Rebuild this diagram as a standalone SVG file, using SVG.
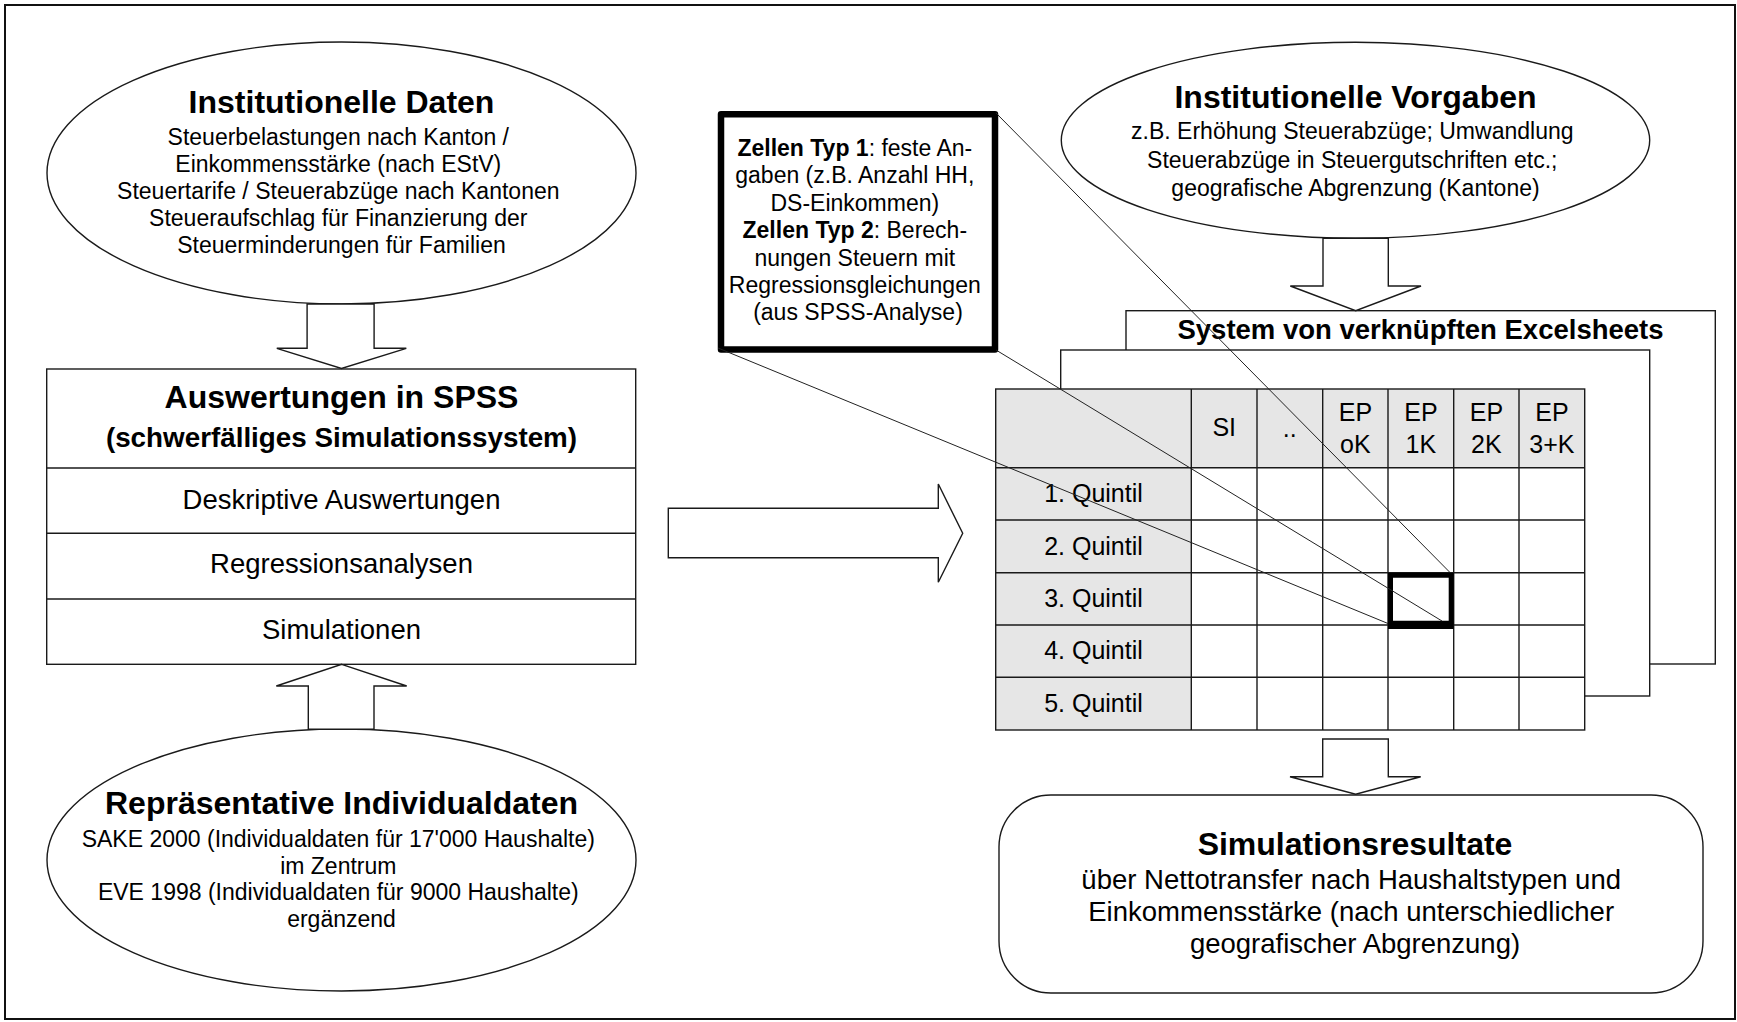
<svg xmlns="http://www.w3.org/2000/svg" width="1737" height="1022" viewBox="0 0 1737 1022">
<style>
text { font-family: "Liberation Sans", Arial, Helvetica, sans-serif; fill: #000; }
.c { text-anchor: middle; }
.b { font-weight: bold; }
.shape { fill: #fff; stroke: #1a1a1a; stroke-width: 1.4; }
.grid { fill: none; stroke: #1a1a1a; stroke-width: 1.4; }
.hd { fill: #e6e6e6; stroke: none; }
.thin { fill: none; stroke: #222; stroke-width: 1; }
.s23 { font-size: 23px; }
.s25 { font-size: 25px; }
.s27 { font-size: 27.5px; }
.s32 { font-size: 32px; }
</style>
<rect x="0" y="0" width="1737" height="1022" fill="#fff"/>
<rect id="frame" x="5" y="5" width="1730" height="1014" fill="none" stroke="#111" stroke-width="2"/>

<g id="institutionelle-daten">
  <ellipse class="shape" cx="341.5" cy="173" rx="294.5" ry="131"/>
  <text class="c b s32" x="341.5" y="113">Institutionelle Daten</text>
  <text class="c s23">
    <tspan x="341.5" y="145">Steuerbelastungen nach Kanton /</tspan>
    <tspan x="341.5" y="172">Einkommensstärke (nach EStV)</tspan>
    <tspan x="341.5" y="199">Steuertarife / Steuerabzüge nach Kantonen</tspan>
    <tspan x="341.5" y="226">Steueraufschlag für Finanzierung der</tspan>
    <tspan x="341.5" y="253">Steuerminderungen für Familien</tspan>
  </text>
</g>

<g id="spss">
  <rect class="shape" x="46.7" y="369" width="589" height="295.3"/>
  <line class="grid" x1="46.7" y1="468" x2="635.7" y2="468"/>
  <line class="grid" x1="46.7" y1="533.3" x2="635.7" y2="533.3"/>
  <line class="grid" x1="46.7" y1="599" x2="635.7" y2="599"/>
  <text class="c b s32" x="341.5" y="408">Auswertungen in SPSS</text>
  <text class="c b" font-size="27.8" x="341.5" y="447">(schwerfälliges Simulationssystem)</text>
  <text class="c s27" x="341.5" y="508.5">Deskriptive Auswertungen</text>
  <text class="c s27" x="341.5" y="573">Regressionsanalysen</text>
  <text class="c s27" x="341.5" y="639">Simulationen</text>
</g>

<g id="individualdaten">
  <ellipse class="shape" cx="341.5" cy="860" rx="294.5" ry="131"/>
  <text class="c b s32" x="341.5" y="814">Repräsentative Individualdaten</text>
  <text class="c s23">
    <tspan x="341.5" y="847">SAKE 2000 (Individualdaten für 17'000 Haushalte)</tspan>
    <tspan x="341.5" y="873.5">im Zentrum</tspan>
    <tspan x="341.5" y="900">EVE 1998 (Individualdaten für 9000 Haushalte)</tspan>
    <tspan x="341.5" y="927">ergänzend</tspan>
  </text>
</g>

<g id="institutionelle-vorgaben">
  <ellipse class="shape" cx="1355.5" cy="140.3" rx="294.2" ry="98"/>
  <text class="c b s32" x="1355.5" y="108.3">Institutionelle Vorgaben</text>
  <text class="c s23">
    <tspan x="1355.5" y="139">z.B. Erhöhung Steuerabzüge; Umwandlung</tspan>
    <tspan x="1355.5" y="167.5">Steuerabzüge in Steuergutschriften etc.;</tspan>
    <tspan x="1355.5" y="195.5">geografische Abgrenzung (Kantone)</tspan>
  </text>
</g>

<g id="callout">
  <rect x="721" y="114.2" width="274" height="235.3" fill="#fff" stroke="#000" stroke-width="6.5" stroke-linejoin="round"/>
  <text class="c s23">
    <tspan x="858" y="156"><tspan class="b">Zellen Typ 1</tspan>: feste An-</tspan>
    <tspan x="858" y="183.4">gaben (z.B. Anzahl HH,</tspan>
    <tspan x="858" y="210.8">DS-Einkommen)</tspan>
    <tspan x="858" y="238.2"><tspan class="b">Zellen Typ 2</tspan>: Berech-</tspan>
    <tspan x="858" y="265.6">nungen Steuern mit</tspan>
    <tspan x="858" y="293">Regressionsgleichungen</tspan>
    <tspan x="858" y="320.4">(aus SPSS-Analyse)</tspan>
  </text>
</g>

<g id="excelsheets">
  <rect class="shape" x="1126" y="310.7" width="589.3" height="353.3"/>
  <text class="c b s27" x="1420.5" y="338.5">System von verknüpften Excelsheets</text>
  <rect class="shape" x="1060.7" y="350" width="589" height="346"/>
  <g id="tabelle">
    <rect x="995.7" y="389" width="589" height="341" fill="#fff"/>
    <rect class="hd" x="995.7" y="389" width="589" height="78.7"/>
    <rect class="hd" x="995.7" y="467.7" width="195.6" height="262.3"/>
    <rect class="grid" x="995.7" y="389" width="589" height="341"/>
    <path class="grid" d="M995.7 467.7H1584.7M995.7 520H1584.7M995.7 572.7H1584.7M995.7 625H1584.7M995.7 677.3H1584.7M1191.3 389V730M1257 389V730M1322.7 389V730M1388 389V730M1453.7 389V730M1519 389V730"/>
    <g class="c s25">
      <text x="1224.2" y="436">SI</text>
      <text x="1289.8" y="437">..</text>
      <text x="1355.4" y="421">EP</text>
      <text x="1355.4" y="453">oK</text>
      <text x="1420.9" y="421">EP</text>
      <text x="1420.9" y="453">1K</text>
      <text x="1486.4" y="421">EP</text>
      <text x="1486.4" y="453">2K</text>
      <text x="1551.9" y="421">EP</text>
      <text x="1551.9" y="453">3+K</text>
      <text x="1093.5" y="502">1. Quintil</text>
      <text x="1093.5" y="554.5">2. Quintil</text>
      <text x="1093.5" y="607">3. Quintil</text>
      <text x="1093.5" y="659.3">4. Quintil</text>
      <text x="1093.5" y="711.5">5. Quintil</text>
    </g>
    <path fill="#000" fill-rule="evenodd" d="M1388 572.7H1453.7V629H1388Z M1393 577.7V620.7H1448.7V577.7Z"/>
  </g>
</g>

<g id="simulationsresultate">
  <rect class="shape" x="999" y="795" width="704" height="198" rx="52" ry="52"/>
  <text class="c b s32" x="1355" y="855">Simulationsresultate</text>
  <text class="c s27">
    <tspan x="1355" y="889">über Nettotransfer nach Haushaltstypen und</tspan>
    <tspan x="1355" y="921">Einkommensstärke (nach unterschiedlicher</tspan>
    <tspan x="1355" y="953">geografischer Abgrenzung)</tspan>
  </text>
</g>

<g id="connectors">
  <polygon class="shape" points="307.1,304 374.1,304 374.1,348.3 406.3,348.3 341.5,368.5 276.8,348.3 307.1,348.3"/>
  <polygon class="shape" points="341.7,664.3 406.7,686 374,686 374,729.3 308.3,729.3 308.3,686 276.3,686"/>
  <polygon class="shape" points="668.3,508.3 938.3,508.3 938.3,484 962.7,533.3 938.3,582.3 938.3,557.7 668.3,557.7"/>
  <polygon class="shape" points="1323,238.3 1388.3,238.3 1388.3,286 1421,286 1355.7,310.7 1290.3,286 1323,286"/>
  <polygon class="shape" points="1322.7,739 1388.3,739 1388.3,776.7 1420.7,776.7 1355.7,794.3 1290,776.7 1322.7,776.7"/>
  <line class="thin" x1="996" y1="113" x2="1450" y2="572.5"/>
  <line class="thin" x1="996" y1="350" x2="1442" y2="621"/>
  <line class="thin" x1="718" y1="348" x2="1388" y2="623.5"/>
</g>
</svg>
